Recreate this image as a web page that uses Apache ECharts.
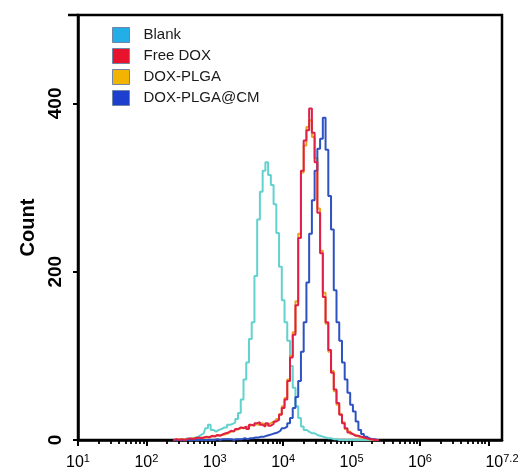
<!DOCTYPE html>
<html>
<head>
<meta charset="utf-8">
<script src="https://cdn.jsdelivr.net/npm/echarts@6/dist/echarts.min.js"></script>
<style>html,body{margin:0;padding:0;background:#fff}#c{width:531px;height:474px}</style>
</head>
<body>
<div id="c"></div>
<script>
// log10 fluorescence bin centres
var bins = [2.40,2.44,2.48,2.52,2.56,2.60,2.64,2.68,2.72,2.76,
 2.80,2.84,2.88,2.92,2.96,3.00,3.04,3.08,3.12,3.16,
 3.20,3.24,3.28,3.32,3.36,3.40,3.44,3.48,3.52,3.56,
 3.60,3.64,3.68,3.72,3.76,3.80,3.84,3.88,3.92,3.96,
 4.00,4.04,4.08,4.12,4.16,4.20,4.24,4.28,4.32,4.36,
 4.40,4.44,4.48,4.52,4.56,4.60,4.64,4.68,4.72,4.76,
 4.80,4.84,4.88,4.92,4.96,5.00,5.04,5.08,5.12,5.16,
 5.20,5.24,5.28,5.32,5.36,5.40];
var blank = [0,0,1,0,1,2,1,2,3,4,
 6,8,14,18,12,10,12,13,15,15,
 18,19,21,25,32,48,72,92,120,140,
 195,262,295,320,330,315,303,280,246,206,
 166,140,118,88,62,40,26,16,12,10,
 8,8,6,5,4,3,2,2,1,1,
 0,0,0,0,0,0,0,0,0,0,
 0,0,0,0,0,0];
var freeDox = [0,1,0,1,0,1,2,1,2,3,
 2,3,4,3,5,4,6,5,7,8,
 9,11,10,13,15,14,16,13,18,17,
 20,21,18,16,20,17,19,22,24,30,
 38,48,70,98,125,160,240,320,356,368,
 394,365,330,270,222,170,140,107,80,60,
 44,30,20,14,9,7,5,5,4,3,
 2,1,1,0,0,0];
var doxPlga = [0,0,1,0,1,1,1,2,2,2,
 3,2,3,4,4,5,5,6,6,7,
 8,10,11,12,13,15,14,16,17,18,
 19,18,20,19,18,19,21,21,25,31,
 40,50,72,100,128,165,245,318,350,372,
 380,360,335,275,225,175,138,105,82,58,
 42,31,21,13,10,7,6,4,3,3,
 2,1,0,0,0,0];
var doxPlgaCm = [0,0,0,0,0,0,0,0,0,0,
 0,0,0,0,0,0,1,0,1,1,
 1,1,0,1,1,1,2,1,2,2,
 3,3,4,4,5,6,7,8,9,11,
 14,16,20,26,38,51,70,105,140,187,
 245,285,320,346,358,383,345,290,250,178,
 140,118,92,72,56,42,34,22,12,7,
 4,2,1,1,0,0];

var seriesNames = ['Blank','Free DOX','DOX-PLGA','DOX-PLGA@CM'];
var legendColors = ['#23aee8','#e8132c','#f2b400','#1d3fcf'];
var lineColors = ['#62d2cf','#df1f48','#e8a21e','#2f52c2'];
var xTickValues = [1,2,3,4,5,6,7.2];
var xTickLabels = ['1','2','3','4','5','6','7.2'];
var xMajorTicks = [1,2,3,4,5,6,7];
var yTickValues = [0,200,400];

var xMinorTicks = [];
for (var d = 1; d <= 7; d++) {
  for (var k = 2; k <= 9; k++) {
    var v = d + Math.log10(k);
    if (v < 7.2) xMinorTicks.push(v);
  }
}

var FONT = 'Arial, "Liberation Sans", sans-serif';
var seriesData = [blank, freeDox, doxPlga, doxPlgaCm];
var zOrder = [2, 5, 3, 4];

var chart = echarts.init(document.getElementById('c'), null, {renderer: 'canvas'});
chart.setOption({
  animation: false,
  backgroundColor: '#fff',
  grid: {left: 78, right: 29, top: 15, bottom: 34, show: true, borderColor: '#000', borderWidth: 2.5, backgroundColor: 'transparent'},
  legend: {
    orient: 'vertical', left: 107, top: 22, itemWidth: 17, itemHeight: 15, itemGap: 5,
    icon: 'rect',
    textStyle: {fontFamily: FONT, fontSize: 15, color: '#1a1a1a', padding: [0, 0, 0, 9]},
    data: seriesNames.map(function (n, i) {
      return {name: n, icon: 'rect', itemStyle: {color: legendColors[i], borderColor: '#6f86a6', borderWidth: 1}};
    })
  },
  graphic: [{
    type: 'line', shape: {x1: 68, y1: 15, x2: 78, y2: 15}, style: {stroke: '#000', lineWidth: 2.5}
  }],
  xAxis: [{
    type: 'value', min: 1, max: 7.2,
    axisLine: {show: true, onZero: false, lineStyle: {color: '#000', width: 2.5}},
    axisTick: {show: true, customValues: xMajorTicks, length: 6, lineStyle: {color: '#000', width: 2}},
    splitLine: {show: false},
    axisLabel: {
      customValues: xTickValues, margin: 13,
      formatter: function (v) {
        var idx = xTickValues.indexOf(v);
        return '{b|10}{s|' + (idx >= 0 ? xTickLabels[idx] : '') + '}';
      },
      rich: {
        b: {fontFamily: FONT, fontSize: 16, color: '#000', lineHeight: 19},
        s: {fontFamily: FONT, fontSize: 11, color: '#000', verticalAlign: 'top', lineHeight: 10}
      }
    }
  }, {
    type: 'value', min: 1, max: 7.2, position: 'bottom',
    axisLine: {show: false},
    axisTick: {show: true, customValues: xMinorTicks, length: 4, lineStyle: {color: '#000', width: 1.8}},
    axisLabel: {show: false}, splitLine: {show: false}
  }],
  yAxis: {
    type: 'value', min: 0, max: 505,
    name: 'Count', nameLocation: 'middle', nameRotate: 90, nameGap: 40,
    nameTextStyle: {fontFamily: FONT, fontSize: 20, fontWeight: 'bold', color: '#000'},
    axisLine: {show: true, lineStyle: {color: '#000', width: 2.5}},
    axisTick: {show: true, customValues: yTickValues, length: 5, lineStyle: {color: '#000', width: 2}},
    splitLine: {show: false},
    axisLabel: {customValues: yTickValues, rotate: 90, margin: 13, fontFamily: FONT, fontSize: 19, fontWeight: 'bold', color: '#000'}
  },
  series: seriesNames.map(function (n, i) {
    return {
      name: n, type: 'line', step: 'middle', symbol: 'none', z: zOrder[i],
      itemStyle: {color: legendColors[i]},
      lineStyle: {color: lineColors[i], width: 2},
      data: bins.map(function (x, j) { return [x, seriesData[i][j]]; })
    };
  })
});
</script>
</body>
</html>
